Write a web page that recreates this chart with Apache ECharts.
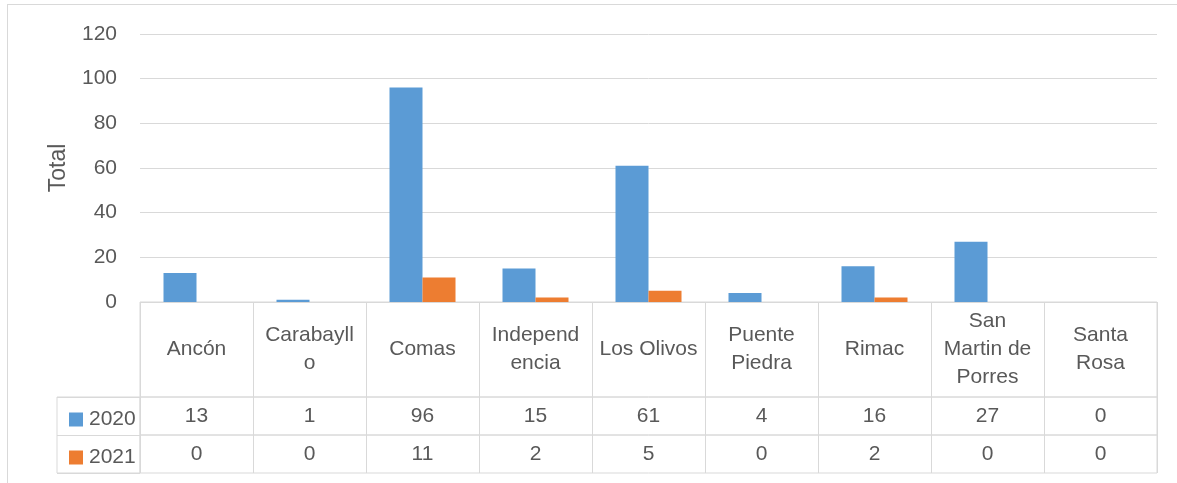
<!DOCTYPE html>
<html><head><meta charset="utf-8">
<script src="https://cdn.jsdelivr.net/npm/echarts@6/dist/echarts.min.js"></script>
<style>
body{margin:0;background:#fff}
#frame{position:absolute;left:7px;top:4px;width:1300px;height:600px;border:1px solid #d9d9d9;box-sizing:border-box}
#c{position:absolute;left:0;top:0;width:1177px;height:483px}
</style>
</head><body><div id="frame"></div><div id="c"></div>
<script>
const categories = ['Ancón','Carabayll\no','Comas','Independ\nencia','Los Olivos','Puente\nPiedra','Rimac','San\nMartin de\nPorres','Santa\nRosa'];
const values2020 = [13,1,96,15,61,4,16,27,0];
const values2021 = [0,0,11,2,5,0,2,0,0];
const seriesNames = ['2020','2021'];
const yAxisName = 'Total';
const yMin = 0, yMax = 120, yStep = 20;

const FONT = 'Liberation Sans';
const TXT = '#595959';
const LINE = '#d9d9d9';
const tableGrid = (o) => Object.assign({show:true, borderColor:LINE, borderWidth:1, backgroundColor:'transparent'}, o);
const rowAxis = (gi, margin, fmt, extra) => Object.assign({
  type:'category', gridIndex:gi, data:categories, position:'top',
  axisLine:{show:false}, axisTick:{show:false},
  splitLine:{show:true, interval:0, lineStyle:{color:LINE, width:1}},
  axisLabel:{interval:0, margin:margin, verticalAlign:'middle', fontSize:21, fontFamily:FONT, color:TXT, formatter:fmt}
}, extra||{});
const hiddenVal = (gi) => ({type:'value', gridIndex:gi, show:false});

const chart = echarts.init(document.getElementById('c'), null, {renderer:'canvas'});
chart.setOption({
  animation:false,
  color:['#5B9BD5','#ED7D31'],
  textStyle:{fontFamily:FONT},
  legend:{
    data:seriesNames, orient:'vertical', left:64, top:404, itemWidth:14, itemHeight:14, itemGap:17,
    icon:'rect', textStyle:{fontSize:21, color:TXT, fontFamily:FONT, padding:[0,0,0,1]}, selectedMode:false
  },
  grid:[
    {left:140, right:20, top:34, height:268},
    tableGrid({left:140, right:20, top:302, height:95}),
    tableGrid({left:140, right:20, top:397, height:38}),
    tableGrid({left:140, right:20, top:435, height:38}),
    tableGrid({left:57, width:83, top:397, height:76})
  ],
  xAxis:[
    {type:'category', gridIndex:0, data:categories, axisLine:{show:false}, axisTick:{show:false}, axisLabel:{show:false}},
    rowAxis(1, -47.5, null, {axisLabel:{interval:0, margin:-47.5, verticalAlign:'middle', fontSize:21, lineHeight:28, fontFamily:FONT, color:TXT}}),
    rowAxis(2, -19, (v,i)=>String(values2020[i])),
    rowAxis(3, -19, (v,i)=>String(values2021[i])),
    hiddenVal(4)
  ],
  yAxis:[
    {type:'value', gridIndex:0, min:yMin, max:yMax, interval:yStep,
     name:yAxisName, nameLocation:'middle', nameGap:70,
     nameTextStyle:{fontSize:23, color:TXT, fontFamily:FONT},
     axisLine:{show:false}, axisTick:{show:false},
     axisLabel:{margin:23, fontSize:21, color:TXT, fontFamily:FONT},
     splitLine:{lineStyle:{color:LINE, width:1}}},
    hiddenVal(1), hiddenVal(2), hiddenVal(3),
    {type:'category', gridIndex:4, data:seriesNames, inverse:true,
     axisLine:{show:false}, axisTick:{show:false}, axisLabel:{show:false},
     splitLine:{show:true, interval:0, lineStyle:{color:LINE, width:1}}}
  ],
  series:[
    {name:seriesNames[0], type:'bar', xAxisIndex:0, yAxisIndex:0, data:values2020, barWidth:33, barGap:'0%'},
    {name:seriesNames[1], type:'bar', xAxisIndex:0, yAxisIndex:0, data:values2021, barWidth:33, barGap:'0%'}
  ]
});
</script>
</body></html>
